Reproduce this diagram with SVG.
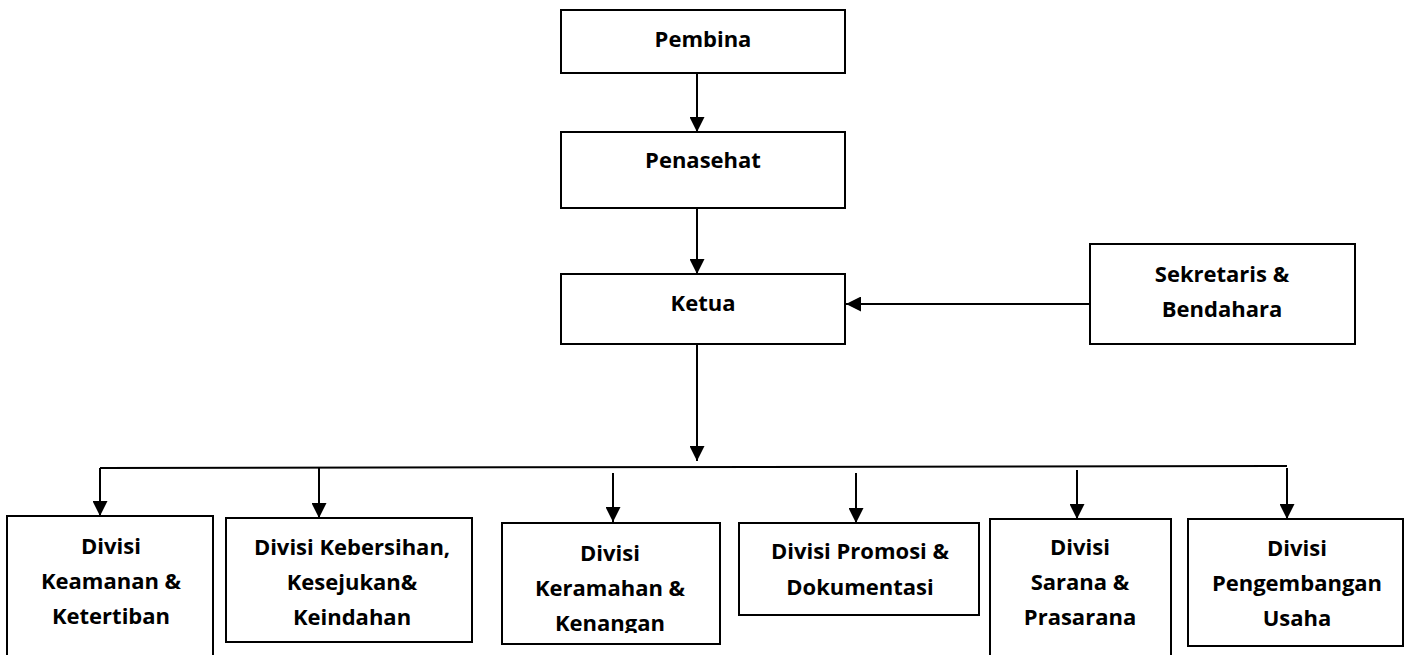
<svg xmlns="http://www.w3.org/2000/svg" width="1406" height="655" viewBox="0 0 1406 655">
<style>
.box{fill:#fff;stroke:#000;stroke-width:2}
.t{font-family:"Open Sans","DejaVu Sans",sans-serif;font-weight:bold;font-size:22px;fill:#000;text-anchor:middle}
.c{stroke:#000;stroke-width:2;fill:none}
.ca{stroke:#000;stroke-width:2;fill:none;marker-end:url(#ah)}
</style>
<defs>
<marker id="ah" markerUnits="userSpaceOnUse" markerWidth="15" markerHeight="15" refX="15" refY="7.5" orient="auto" viewBox="0 0 15 15">
<path d="M0,0 L15,7.5 L0,15 Z" fill="#000"/>
</marker>
<clipPath id="clip3"><rect x="502" y="522" width="218" height="111"/></clipPath>
</defs>
<rect width="1406" height="655" fill="#fff"/>
<g id="connectors">
<line class="ca" x1="697" y1="73" x2="697" y2="132"/>
<line class="ca" x1="697" y1="208" x2="697" y2="274"/>
<line class="ca" x1="1090" y1="304" x2="846" y2="304"/>
<line class="ca" x1="697" y1="344" x2="697" y2="461"/>
<line class="c" x1="100" y1="468" x2="1287" y2="466"/>
<line class="ca" x1="100" y1="468" x2="100" y2="516"/>
<line class="ca" x1="319" y1="467.5" x2="319" y2="518"/>
<line class="ca" x1="613" y1="473" x2="613" y2="522"/>
<line class="ca" x1="856" y1="473" x2="856" y2="523"/>
<line class="ca" x1="1077" y1="470" x2="1077" y2="519"/>
<line class="ca" x1="1287" y1="468" x2="1287" y2="519"/>
</g>
<g id="pembina">
<rect class="box" x="561" y="10" width="284" height="63"/>
<text class="t" x="703" y="47">Pembina</text>
</g>
<g id="penasehat">
<rect class="box" x="561" y="132" width="284" height="76"/>
<text class="t" x="703" y="168">Penasehat</text>
</g>
<g id="ketua">
<rect class="box" x="561" y="274" width="284" height="70"/>
<text class="t" x="703" y="311">Ketua</text>
</g>
<g id="sekretaris">
<rect class="box" x="1090" y="244" width="265" height="100"/>
<text class="t" x="1222" y="282">Sekretaris &amp;</text>
<text class="t" x="1222" y="317">Bendahara</text>
</g>
<g id="div-keamanan">
<rect class="box" x="7" y="516" width="206" height="160"/>
<text class="t" x="111" y="554">Divisi</text>
<text class="t" x="111" y="589">Keamanan &amp;</text>
<text class="t" x="111" y="624">Ketertiban</text>
</g>
<g id="div-kebersihan">
<rect class="box" x="226" y="518" width="246" height="124"/>
<text class="t" x="352" y="555">Divisi Kebersihan,</text>
<text class="t" x="352" y="590">Kesejukan&amp;</text>
<text class="t" x="352" y="625">Keindahan</text>
</g>
<g id="div-keramahan">
<rect class="box" x="502" y="523" width="218" height="121"/>
<text class="t" x="610" y="561">Divisi</text>
<text class="t" x="610" y="596">Keramahan &amp;</text>
<text class="t" x="610" y="631" clip-path="url(#clip3)">Kenangan</text>
</g>
<g id="div-promosi">
<rect class="box" x="739" y="523" width="240" height="92"/>
<text class="t" x="860" y="559">Divisi Promosi &amp;</text>
<text class="t" x="860" y="595">Dokumentasi</text>
</g>
<g id="div-sarana">
<rect class="box" x="990" y="519" width="181" height="160"/>
<text class="t" x="1080" y="555">Divisi</text>
<text class="t" x="1080" y="590">Sarana &amp;</text>
<text class="t" x="1080" y="625">Prasarana</text>
</g>
<g id="div-pengembangan">
<rect class="box" x="1188" y="519" width="215" height="127"/>
<text class="t" x="1297" y="556">Divisi</text>
<text class="t" x="1297" y="591">Pengembangan</text>
<text class="t" x="1297" y="626">Usaha</text>
</g>
</svg>
